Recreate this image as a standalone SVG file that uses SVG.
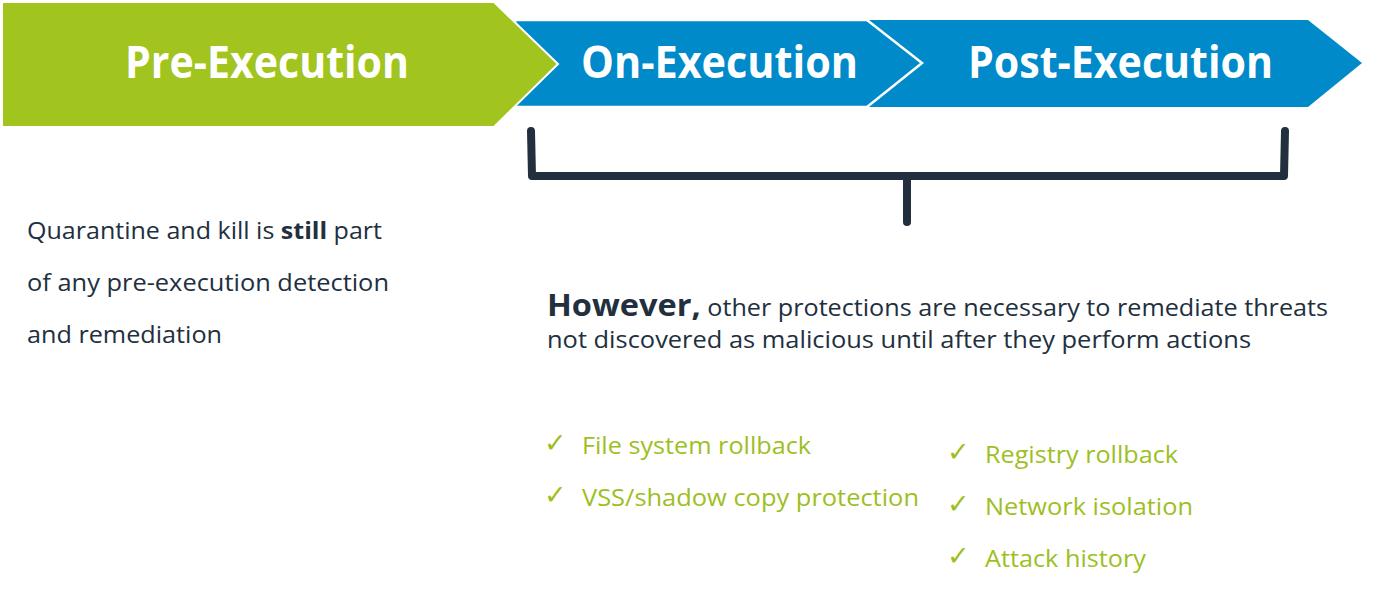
<svg xmlns="http://www.w3.org/2000/svg" width="1387" height="592" viewBox="0 0 1387 592">
<style>
.hdr{font-family:"Open Sans","Liberation Sans",sans-serif;font-weight:700;font-size:45px;fill:#ffffff}
.body{font-family:"Open Sans","Liberation Sans",sans-serif;font-size:23px;fill:#222f3e}
.main{font-family:"Open Sans","Liberation Sans",sans-serif;font-size:24px;fill:#222f3e}
.chk{font-family:"Open Sans","Liberation Sans",sans-serif;font-size:24px;fill:#9dbf1f}
.mark{font-family:"DejaVu Sans",sans-serif;font-size:27px;fill:#9dbf1f}
.bracket{fill:none;stroke:#222f3e;stroke-width:8;stroke-linecap:round;stroke-linejoin:round}
</style>
<rect width="1387" height="592" fill="#ffffff"/>
<g id="node-post-execution">
<polygon points="867,20 1308,20 1362,63 1308,107 867,107" fill="#008ac9"/>
<text class="hdr" x="968" y="78" textLength="305" lengthAdjust="spacingAndGlyphs">Post-Execution</text>
</g>
<g id="node-on-execution">
<polygon points="515,20 867,20 922,63 867,107 515,107" fill="#008ac9" stroke="#ffffff" stroke-width="2.5"/>
<text class="hdr" x="581" y="78" textLength="277" lengthAdjust="spacingAndGlyphs">On-Execution</text>
</g>
<g id="node-pre-execution">
<polygon points="2,2 494,2 558,64 494,127 2,127" fill="#a2c41e" stroke="#ffffff" stroke-width="2"/>
<text class="hdr" x="125" y="78" textLength="284" lengthAdjust="spacingAndGlyphs">Pre-Execution</text>
</g>
<g id="connectors">
<path class="bracket" d="M531,131 L532,176 L1284,176 L1285,131"/>
<path class="bracket" d="M907,178 L907,222"/>
</g>
<g id="node-left-text">
<text class="body" x="27" y="239" textLength="355" lengthAdjust="spacingAndGlyphs">Quarantine and kill is <tspan font-weight="700">still</tspan> part</text>
<text class="body" x="27" y="291" textLength="362" lengthAdjust="spacingAndGlyphs">of any pre-execution detection</text>
<text class="body" x="27" y="343" textLength="195" lengthAdjust="spacingAndGlyphs">and remediation</text>
</g>
<g id="node-however">
<text class="main" x="547" y="316" textLength="781" lengthAdjust="spacingAndGlyphs"><tspan font-weight="700" font-size="31">However,</tspan> other protections are necessary to remediate threats</text>
<text class="main" x="547" y="348" textLength="704" lengthAdjust="spacingAndGlyphs">not discovered as malicious until after they perform actions</text>
</g>
<g id="node-checklist-left">
<text class="mark" x="544" y="452">✓</text>
<text class="chk" x="582" y="454" textLength="229" lengthAdjust="spacingAndGlyphs">File system rollback</text>
<text class="mark" x="544" y="504">✓</text>
<text class="chk" x="582" y="506" textLength="337" lengthAdjust="spacingAndGlyphs">VSS/shadow copy protection</text>
</g>
<g id="node-checklist-right">
<text class="mark" x="947" y="461">✓</text>
<text class="chk" x="985" y="463" textLength="193" lengthAdjust="spacingAndGlyphs">Registry rollback</text>
<text class="mark" x="947" y="513">✓</text>
<text class="chk" x="985" y="515" textLength="208" lengthAdjust="spacingAndGlyphs">Network isolation</text>
<text class="mark" x="947" y="565">✓</text>
<text class="chk" x="985" y="567" textLength="161" lengthAdjust="spacingAndGlyphs">Attack history</text>
</g>
</svg>
